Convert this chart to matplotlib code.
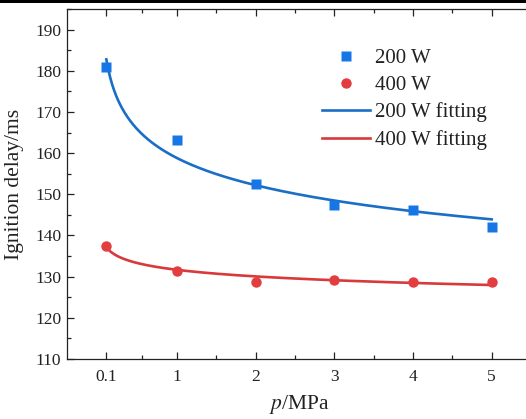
import numpy as np
import matplotlib
matplotlib.use("Agg")
from matplotlib import pyplot as plt
from matplotlib.ticker import FixedLocator, MultipleLocator
from matplotlib.lines import Line2D

plt.rcParams['font.family'] = ['Liberation Serif', 'DejaVu Serif']
plt.rcParams['mathtext.fontset'] = 'stix'

# data
pressure = [0.1, 1, 2, 3, 4, 5]
delay_200w = [180.8, 163.1, 152.6, 147.5, 146.1, 142.0]
delay_400w = [137.5, 131.4, 128.8, 129.3, 128.7, 128.7]
xtick_labels = ['0.1', '1', '2', '3', '4', '5']

blue_pt = '#1776e6'
blue_ln = '#1b6ec6'
red_pt = '#e43d40'
red_ln = '#d8393b'

fig = plt.figure(figsize=(5.26, 4.19), dpi=100)
ax = fig.add_axes([67/526, 60/419, 464/526, 350/419])

# power-law fit y = a * p^b, done in log space
p = np.array(pressure)
pf = np.linspace(0.1, 5, 400)
fits = []
for d in (delay_200w, delay_400w):
    b, loga = np.polyfit(np.log(p), np.log(d), 1)
    fits.append(np.exp(loga) * pf ** b)

ax.plot(pf, fits[0], color=blue_ln, lw=1.9, zorder=2)
ax.plot(pf, fits[1], color=red_ln, lw=1.9, zorder=2)
ax.plot(pressure, delay_200w, 's', color=blue_pt, ms=6.5, mec='none', zorder=3)
ax.plot(pressure, delay_400w, 'o', color=red_pt, ms=7.5, mec='none', zorder=3)

ax.set_xlim(-0.4, 5.5)
ax.set_ylim(110, 195)
ax.xaxis.set_major_locator(FixedLocator(pressure))
ax.set_xticklabels(xtick_labels)
ax.xaxis.set_minor_locator(FixedLocator([0.55, 1.5, 2.5, 3.5, 4.5, 5.5]))
ax.yaxis.set_major_locator(MultipleLocator(10))
ax.yaxis.set_minor_locator(MultipleLocator(5))
ax.tick_params(which='both', direction='in', top=True, right=False,
               width=0.9, colors='#222222', labelsize=12.5)
ax.tick_params(which='major', length=5)
ax.tick_params(which='minor', length=3)
ax.tick_params(axis='x', pad=7)
ax.tick_params(axis='y', pad=4)
for s in ax.spines.values():
    s.set_linewidth(0.9)
    s.set_color('#222222')

ax.set_xlabel('$\\it{p}$/MPa', fontsize=15.5, color='#222222', labelpad=6)
ax.set_ylabel('Ignition delay/ms', fontsize=15.5, color='#222222', labelpad=8)

handles = [
    Line2D([], [], ls='none', marker='s', color=blue_pt, ms=6.5, mec='none'),
    Line2D([], [], ls='none', marker='o', color=red_pt, ms=7.5, mec='none'),
    Line2D([], [], color=blue_ln, lw=1.9),
    Line2D([], [], color=red_ln, lw=1.9),
]
labels = ['200 W', '400 W', '200 W fitting', '400 W fitting']
fig.legend(handles, labels, loc='upper left', bbox_to_anchor=(314/526, 1 - 40/419),
           frameon=False, fontsize=15, handlelength=2.3, handletextpad=0.25,
           labelspacing=0.36, borderaxespad=0, labelcolor='#222222')

# dark strip along top edge of the original picture
fig.add_artist(plt.Rectangle((0, 1 - 3/419), 1, 3/419, transform=fig.transFigure,
                             color='black', lw=0))

fig.savefig('out.png', dpi=100)
